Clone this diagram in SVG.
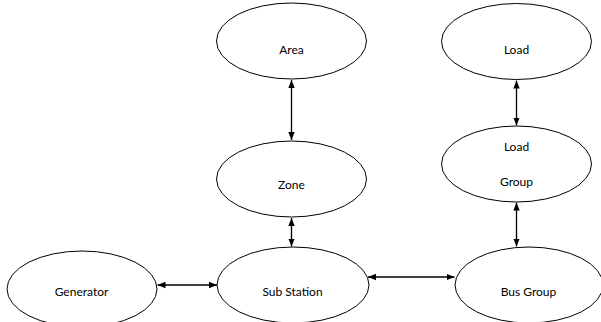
<svg xmlns="http://www.w3.org/2000/svg" width="601" height="322" viewBox="0 0 601 322">
  <defs>
    <marker id="head" viewBox="0 0 8 8" refX="8" refY="4" markerWidth="8" markerHeight="8" markerUnits="userSpaceOnUse" orient="auto-start-reverse">
      <path d="M0,0.8 L8,4 L0,7.2 Z" fill="#000"/>
    </marker>
  </defs>
  <style>
    .node ellipse { fill: #fff; stroke: #000; stroke-width: 1; }
    .node text { font-family: Lato, "Liberation Sans", sans-serif; font-size: 12px; fill: #000; text-anchor: middle; }
    .link { stroke: #000; stroke-width: 1.3; fill: none; marker-start: url(#head); marker-end: url(#head); }
  </style>
  <rect width="601" height="322" fill="#fff"/>

  <g id="connectors">
    <line class="link" x1="291.5" y1="80" x2="291.5" y2="140"/>
    <line class="link" x1="291.5" y1="218" x2="291.5" y2="246.5"/>
    <line class="link" x1="516.5" y1="80.5" x2="516.5" y2="125.5"/>
    <line class="link" x1="516.5" y1="202.5" x2="516.5" y2="246.5"/>
    <line class="link" x1="157.5" y1="285" x2="217" y2="285"/>
    <line class="link" x1="368" y1="277" x2="454.5" y2="277"/>
  </g>

  <g id="area" class="node">
    <ellipse cx="291.5" cy="41" rx="75" ry="38"/>
    <text x="291.5" y="54">Area</text>
  </g>
  <g id="load" class="node">
    <ellipse cx="516.5" cy="41.5" rx="75" ry="38"/>
    <text x="516.5" y="54">Load</text>
  </g>
  <g id="load-group" class="node">
    <ellipse cx="516.5" cy="164" rx="75" ry="38"/>
    <text x="516.5" y="151">Load</text>
    <text x="516.5" y="186">Group</text>
  </g>
  <g id="zone" class="node">
    <ellipse cx="291.5" cy="179" rx="75" ry="38"/>
    <text x="291.5" y="189">Zone</text>
  </g>
  <g id="generator" class="node">
    <ellipse cx="82" cy="289" rx="75" ry="38"/>
    <text x="81.5" y="296">Generator</text>
  </g>
  <g id="sub-station" class="node">
    <ellipse cx="293" cy="285" rx="76" ry="38"/>
    <text x="292.5" y="296">Sub Station</text>
  </g>
  <g id="bus-group" class="node">
    <ellipse cx="529" cy="285" rx="74" ry="38"/>
    <text x="528.5" y="296">Bus Group</text>
  </g>
</svg>
